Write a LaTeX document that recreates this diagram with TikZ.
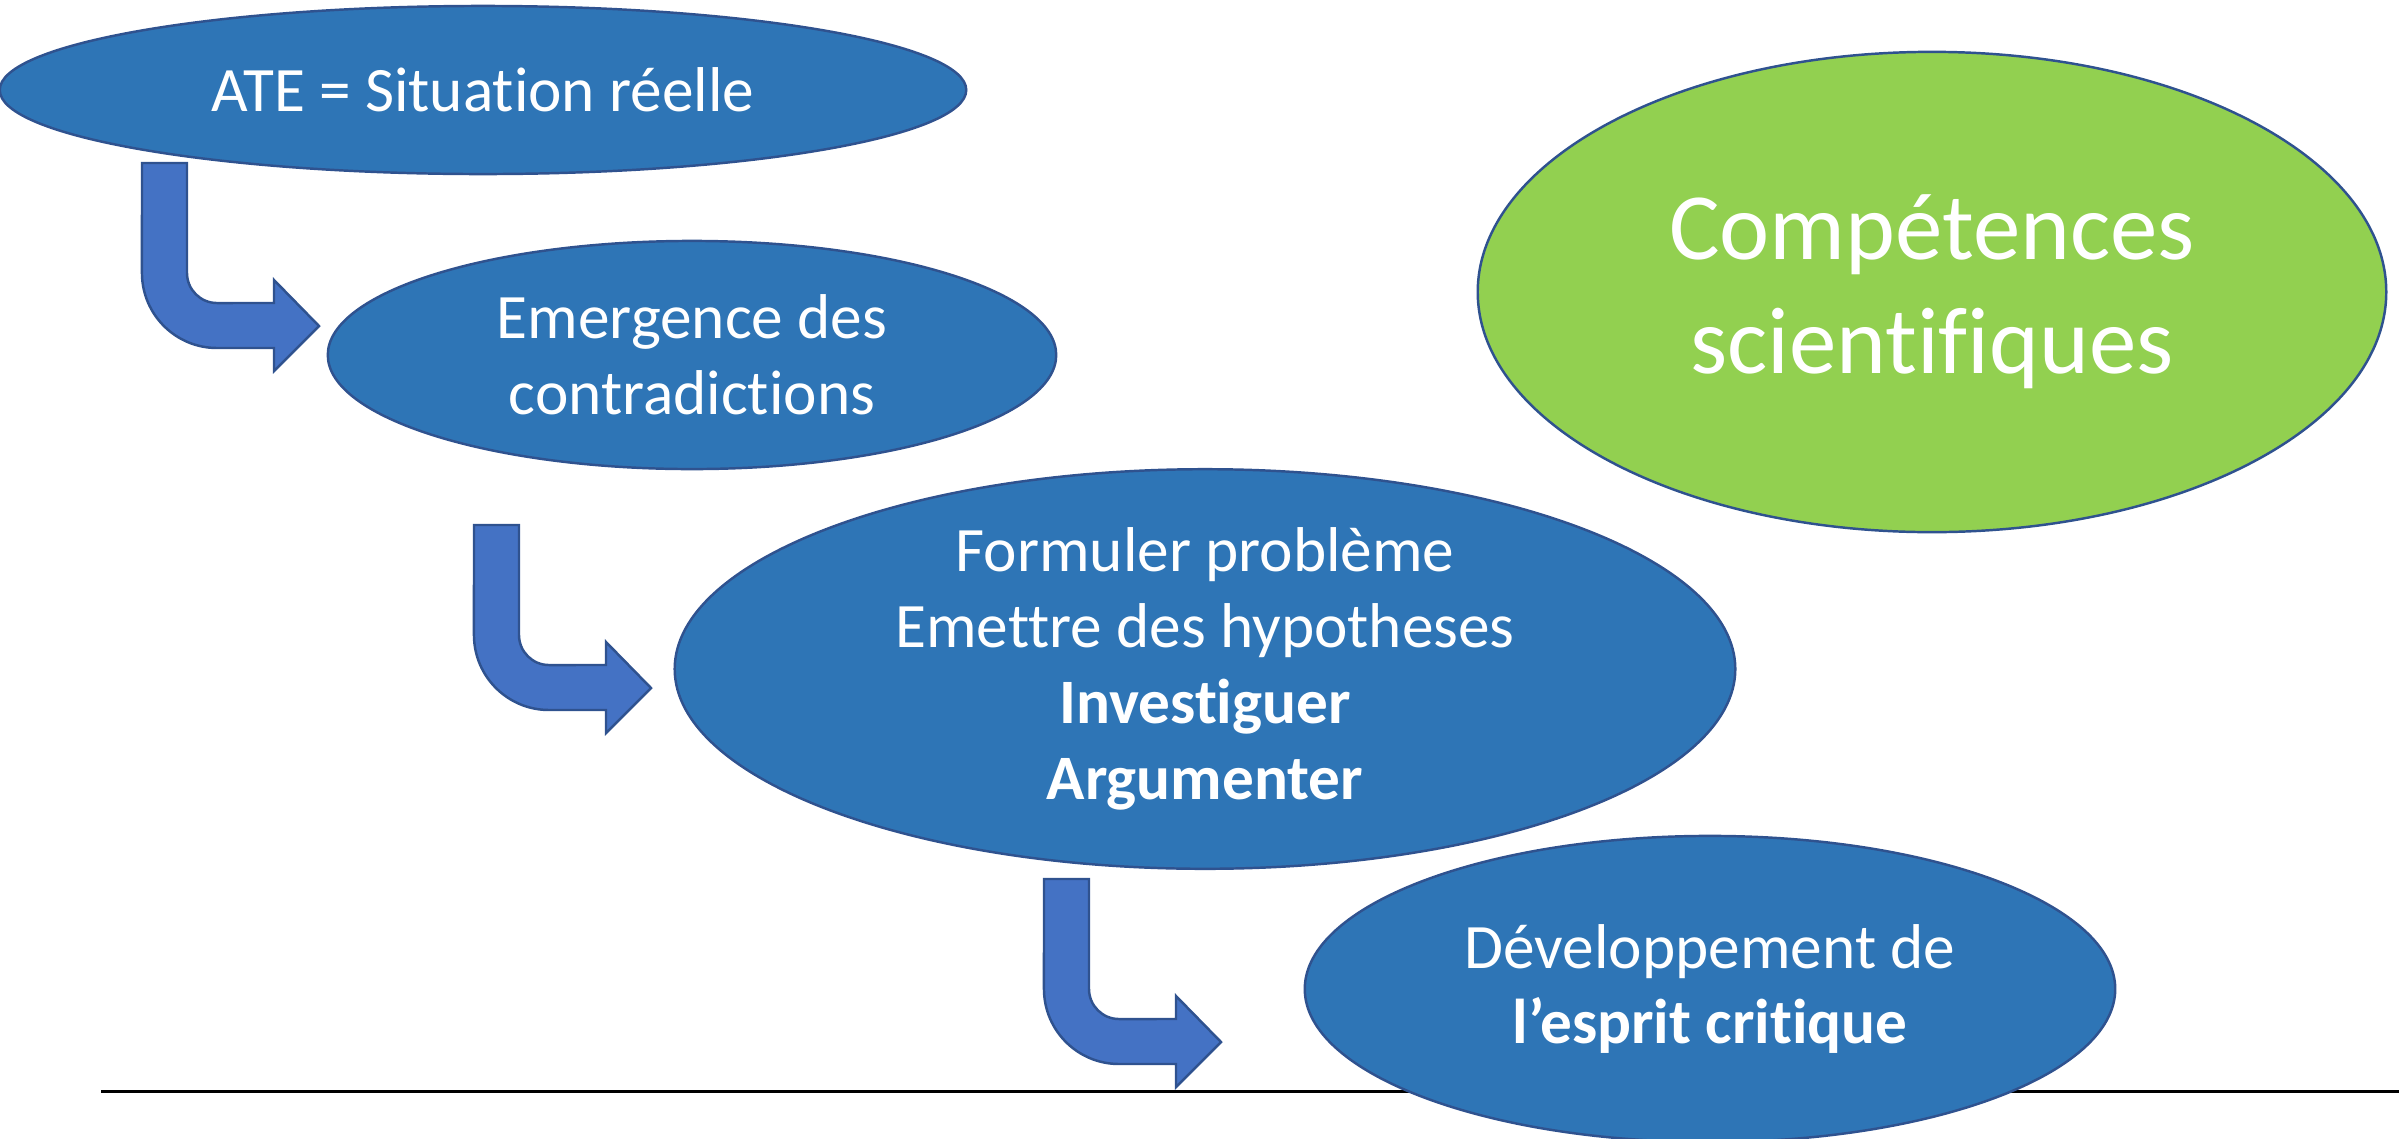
\documentclass[tikz,border=0pt]{standalone}
\usepackage{fontspec}
\setmainfont{Carlito}[Ligatures=NoCommon]
\usepackage{tikz}
\usetikzlibrary{calc}
\usetikzlibrary{shapes}
\definecolor{BubbleBlue}{HTML}{2E75B6}
\definecolor{EdgeBlue}{HTML}{2F528F}
\definecolor{ArrowBlue}{HTML}{4472C4}
\definecolor{SkillGreen}{HTML}{92D050}
\newcommand{\BentArrow}[1]{%
  \draw[bentarrow, shift={(#1)}] (0,0) -- (45,0) -- (45,110)
    arc[start angle=180, end angle=270, radius=0.3cm] -- (132,140) -- (132,117)
    -- (177,163) -- (132,208) -- (132,185) -- (75,185)
    arc[start angle=270, end angle=180, radius=0.75cm] -- cycle;}

\begin{document}
\begin{tikzpicture}[x=0.01cm,y=-0.01cm,
    bubble/.style={ellipse, draw=EdgeBlue, line width=0.7pt, fill=BubbleBlue, text=white,
      align=center, inner sep=0pt, font=\fontsize{18}{21.6}\selectfont},
    bentarrow/.style={draw=EdgeBlue, line width=0.7pt, fill=ArrowBlue, line join=miter}]

      \useasboundingbox (0,0) rectangle (2399,1139);

      \node[bubble, minimum width=9.66cm, minimum height=1.68cm] (ate) at (483,90) {ATE = Situation réelle};
      \node[bubble, minimum width=7.28cm, minimum height=2.28cm] (emerg) at ($(ate)+(209,265)$) {Emergence des\\contradictions};
      \node[bubble, minimum width=10.6cm, minimum height=3.7cm] (formul) at ($(emerg)+(513,314)$)
        {Formuler problème\\Emettre des hypotheses\\\textbf{Investiguer}\\\textbf{Argumenter}};

      \coordinate (lineL) at (101,1091); % baseline under the steps
      \coordinate (lineR) at (2399,1091);
      \draw[line width=0.85pt, black] (lineL) -- (lineR);

      \node[bubble, minimum width=8.1cm, minimum height=3.06cm] (devel) at ($(formul)+(505,320)$)
        {Développement de\\\textbf{l’esprit critique}};
      \node[bubble, fill=SkillGreen, minimum width=9.08cm, minimum height=4.8cm,
        font=\fontsize{27}{32.4}\selectfont] (compet) at (1932,292) {Compétences\\scientifiques};

      \coordinate (a1) at (142,163);
      \coordinate (a2) at (474,525);
      \coordinate (a3) at (1044,879);
      \BentArrow{a1}
      \BentArrow{a2}
      \BentArrow{a3}
    \end{tikzpicture}
\end{document}
